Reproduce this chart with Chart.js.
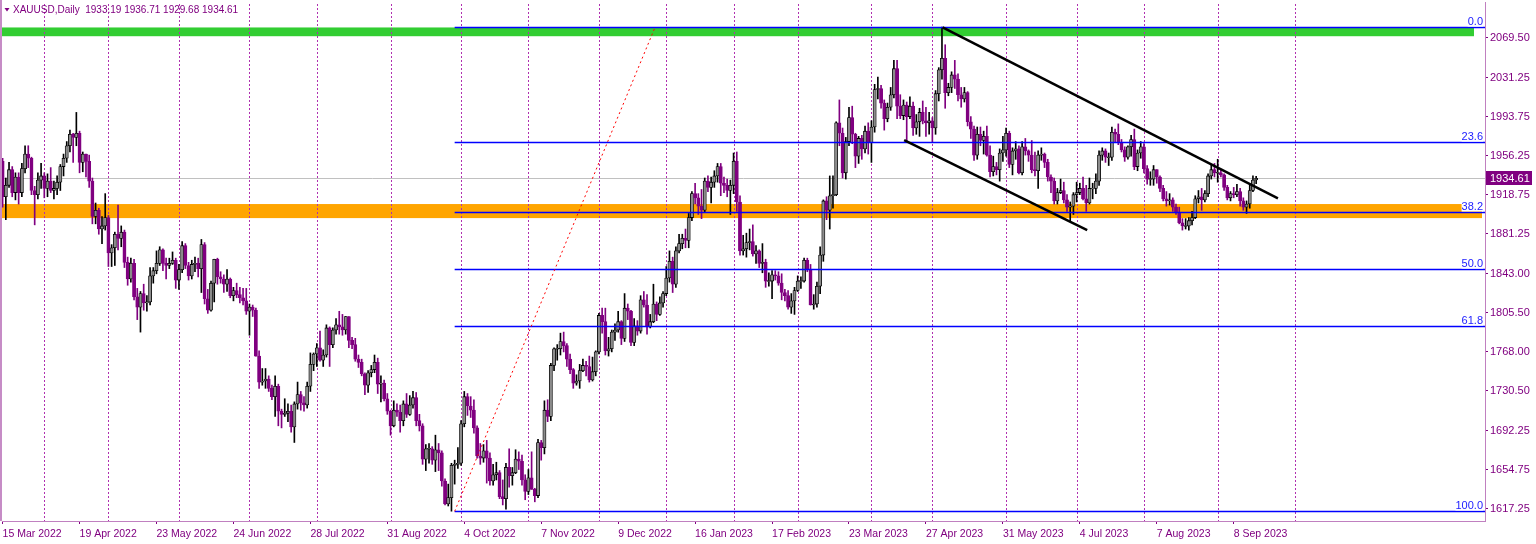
<!DOCTYPE html>
<html>
<head>
<meta charset="utf-8">
<script src="https://cdn.jsdelivr.net/npm/chart.js@4.4.0/dist/chart.umd.min.js"></script>
<style>
  html, body { margin: 0; padding: 0; background: #fff; }
  canvas { display: block; }
</style>
</head>
<body>
<canvas id="xauChart" width="1536" height="544"></canvas>
<script>
// XAUUSD daily candles, one array per month: [day, open, high, low, close]
const m2022_03 = [
  [15,1951,1954,1907,1917],[16,1917,1935,1895,1928],[17,1928,1950,1926,1943],[18,1943,1946,1917,1921],
  [21,1921,1940,1914,1936],[22,1936,1940,1910,1921],[23,1921,1949,1917,1944],[24,1944,1966,1940,1958],[25,1958,1966,1945,1954],
  [28,1954,1955,1919,1923],[29,1923,1927,1890,1919],[30,1919,1940,1915,1933],[31,1933,1949,1925,1937]
];
const m2022_04 = [
  [1,1937,1940,1916,1925],
  [4,1925,1939,1917,1932],[5,1932,1945,1921,1923],[6,1923,1932,1915,1925],[7,1925,1937,1919,1931],[8,1931,1948,1923,1946],
  [11,1946,1958,1937,1954],[12,1954,1970,1950,1966],[13,1966,1981,1960,1977],[14,1977,1978,1950,1974],
  [18,1974,1998,1966,1978],[19,1978,1980,1940,1950],[20,1950,1960,1941,1958],[21,1958,1958,1936,1951],[22,1951,1957,1926,1932],
  [25,1932,1935,1891,1898],[26,1898,1911,1891,1904],[27,1904,1906,1881,1886],[28,1886,1898,1872,1889],[29,1889,1920,1885,1897]
];
const m2022_05 = [
  [2,1897,1899,1850,1863],[3,1863,1871,1850,1868],[4,1868,1883,1851,1881],[5,1881,1909,1866,1877],[6,1877,1889,1869,1883],
  [9,1883,1885,1849,1854],[10,1854,1859,1832,1838],[11,1838,1858,1835,1853],[12,1853,1857,1818,1821],[13,1821,1829,1799,1811],
  [16,1811,1826,1787,1824],[17,1824,1833,1808,1815],[18,1815,1822,1807,1816],[19,1816,1849,1813,1841],[20,1841,1849,1834,1846],
  [23,1846,1865,1843,1853],[24,1853,1869,1851,1866],[25,1866,1867,1846,1853],[26,1853,1858,1838,1851],[27,1851,1858,1848,1853],
  [30,1853,1864,1852,1856],[31,1856,1858,1829,1837]
];
const m2022_06 = [
  [1,1837,1852,1828,1847],[2,1847,1874,1844,1870],[3,1870,1872,1848,1851],
  [6,1851,1854,1837,1841],[7,1841,1856,1838,1852],[8,1852,1859,1845,1853],[9,1853,1858,1840,1848],[10,1848,1876,1825,1871],
  [13,1871,1873,1814,1819],[14,1819,1828,1805,1808],[15,1808,1836,1807,1834],[16,1834,1857,1816,1857],[17,1857,1858,1833,1840],
  [20,1840,1845,1834,1838],[21,1838,1842,1825,1833],[22,1833,1847,1826,1838],[23,1838,1839,1820,1822],[24,1822,1830,1817,1827],
  [27,1827,1834,1820,1823],[28,1823,1830,1815,1820],[29,1820,1829,1813,1817],[30,1817,1829,1804,1807]
];
const m2022_07 = [
  [1,1807,1814,1784,1811],
  [4,1811,1813,1802,1808],[5,1808,1810,1764,1764],[6,1764,1769,1733,1739],[7,1739,1752,1736,1740],[8,1740,1752,1733,1742],
  [11,1742,1745,1730,1733],[12,1733,1736,1722,1725],[13,1725,1745,1706,1735],[14,1735,1737,1697,1711],[15,1711,1713,1695,1708],
  [18,1708,1723,1706,1709],[19,1709,1718,1701,1711],[20,1711,1717,1691,1696],[21,1696,1720,1681,1718],[22,1718,1739,1713,1727],
  [25,1727,1730,1712,1719],[26,1719,1725,1711,1717],[27,1717,1739,1714,1735],[28,1735,1767,1730,1756],[29,1756,1767,1750,1766]
];
const m2022_08 = [
  [1,1766,1776,1754,1772],[2,1772,1788,1759,1760],[3,1760,1770,1754,1765],[4,1765,1794,1763,1791],[5,1791,1792,1754,1775],
  [8,1775,1791,1772,1789],[9,1789,1800,1785,1794],[10,1794,1807,1785,1792],[11,1792,1804,1784,1789],[12,1789,1802,1785,1802],
  [15,1802,1802,1772,1779],[16,1779,1782,1771,1775],[17,1775,1781,1759,1761],[18,1761,1765,1753,1758],[19,1758,1761,1745,1747],
  [22,1747,1748,1727,1736],[23,1736,1750,1729,1748],[24,1748,1755,1744,1751],[25,1751,1765,1748,1758],[26,1758,1762,1728,1737],
  [29,1737,1745,1720,1738],[30,1738,1741,1721,1723],[31,1723,1728,1708,1711]
];
const m2022_09 = [
  [1,1711,1712,1688,1697],[2,1697,1721,1696,1712],
  [5,1712,1718,1706,1710],[6,1710,1717,1691,1702],[7,1702,1721,1697,1718],[8,1718,1728,1705,1708],[9,1708,1726,1707,1717],
  [12,1717,1730,1714,1724],[13,1724,1729,1697,1702],[14,1702,1708,1692,1697],[15,1697,1699,1660,1665],[16,1665,1679,1654,1675],
  [19,1675,1680,1661,1675],[20,1675,1677,1660,1664],[21,1664,1688,1653,1674],[22,1674,1680,1654,1671],[23,1671,1673,1639,1644],
  [26,1644,1646,1621,1622],[27,1622,1641,1620,1628],[28,1628,1661,1615,1659],[29,1659,1664,1641,1660],[30,1660,1676,1656,1661]
];
const m2022_10 = [
  [3,1661,1702,1659,1699],[4,1699,1730,1696,1725],[5,1725,1728,1707,1716],[6,1716,1725,1705,1712],[7,1712,1722,1690,1695],
  [10,1695,1697,1666,1668],[11,1668,1680,1660,1666],[12,1666,1679,1662,1673],[13,1673,1683,1642,1666],[14,1666,1671,1640,1644],
  [17,1644,1660,1640,1650],[18,1650,1662,1645,1652],[19,1652,1654,1627,1629],[20,1629,1645,1621,1627],[21,1627,1661,1617,1657],
  [24,1657,1675,1638,1649],[25,1649,1657,1640,1652],[26,1652,1674,1651,1665],[27,1665,1672,1655,1663],[28,1663,1669,1640,1645],
  [31,1645,1650,1626,1634]
];
const m2022_11 = [
  [1,1634,1655,1631,1647],[2,1647,1672,1636,1636],[3,1636,1637,1624,1630],[4,1630,1684,1628,1681],
  [7,1681,1683,1664,1676],[8,1676,1721,1670,1712],[9,1712,1722,1701,1706],[10,1706,1757,1702,1755],[11,1755,1772,1750,1771],
  [14,1771,1775,1760,1771],[15,1771,1786,1765,1778],[16,1778,1787,1768,1774],[17,1774,1776,1754,1761],[18,1761,1766,1747,1751],
  [21,1751,1752,1733,1738],[22,1738,1746,1736,1740],[23,1740,1756,1733,1750],[24,1750,1761,1749,1755],[25,1755,1759,1745,1754],
  [28,1754,1764,1739,1741],[29,1741,1763,1740,1749],[30,1749,1769,1745,1768]
];
const m2022_12 = [
  [1,1768,1805,1766,1803],[2,1803,1810,1786,1797],
  [5,1797,1810,1765,1769],[6,1769,1782,1764,1771],[7,1771,1789,1768,1787],[8,1787,1795,1779,1789],[9,1789,1807,1787,1797],
  [12,1797,1798,1775,1781],[13,1781,1824,1778,1810],[14,1810,1814,1799,1807],[15,1807,1808,1774,1777],[16,1777,1800,1774,1793],
  [19,1793,1798,1784,1788],[20,1788,1822,1786,1818],[21,1818,1826,1811,1813],[22,1813,1823,1785,1792],[23,1792,1804,1791,1797],
  [27,1797,1833,1796,1814],[28,1814,1816,1798,1804],[29,1804,1821,1803,1815],[30,1815,1826,1811,1824]
];
const m2023_01 = [
  [3,1824,1850,1822,1839],[4,1839,1865,1835,1855],[5,1855,1859,1825,1833],[6,1833,1869,1830,1865],
  [9,1865,1881,1863,1872],[10,1872,1881,1867,1877],[11,1877,1886,1868,1875],[12,1875,1901,1868,1897],[13,1897,1922,1894,1920],
  [16,1920,1930,1910,1916],[17,1916,1920,1900,1908],[18,1908,1924,1896,1904],[19,1904,1935,1902,1932],[20,1932,1937,1922,1926],
  [23,1926,1936,1911,1931],[24,1931,1942,1926,1937],[25,1937,1949,1931,1946],[26,1946,1949,1918,1930],[27,1930,1936,1921,1928],
  [30,1928,1934,1917,1923],[31,1923,1933,1900,1928]
];
const m2023_02 = [
  [1,1928,1959,1920,1951],[2,1951,1960,1903,1912],[3,1912,1918,1861,1865],
  [6,1865,1880,1861,1867],[7,1867,1882,1859,1873],[8,1873,1886,1866,1874],[9,1874,1890,1860,1862],[10,1862,1870,1853,1865],
  [13,1865,1866,1849,1853],[14,1853,1872,1844,1854],[15,1854,1857,1830,1836],[16,1836,1844,1831,1836],[17,1836,1846,1819,1842],
  [20,1842,1846,1837,1841],[21,1841,1845,1832,1834],[22,1834,1843,1818,1825],[23,1825,1828,1817,1822],[24,1822,1827,1809,1811],
  [27,1811,1824,1805,1817],[28,1817,1830,1804,1827]
];
const m2023_03 = [
  [1,1827,1841,1826,1836],[2,1836,1840,1829,1836],[3,1836,1858,1835,1856],
  [6,1856,1858,1845,1847],[7,1847,1852,1813,1813],[8,1813,1823,1809,1814],[9,1814,1835,1811,1831],[10,1831,1869,1824,1861],
  [13,1861,1914,1855,1913],[14,1913,1917,1895,1904],[15,1904,1937,1886,1918],[16,1918,1937,1906,1919],[17,1919,1989,1918,1988],
  [20,1988,2010,1966,1978],[21,1978,1983,1935,1940],[22,1940,1974,1934,1970],[23,1970,2003,1966,1993],[24,1993,2004,1968,1977],
  [27,1977,1978,1945,1956],[28,1956,1975,1949,1973],[29,1973,1976,1953,1963],[30,1963,1985,1959,1980],[31,1980,1988,1958,1969]
];
const m2023_04 = [
  [3,1969,1990,1950,1984],[4,1984,2025,1979,2020],[5,2020,2032,2011,2021],[6,2021,2024,2002,2007],
  [10,2007,2010,1981,1992],[11,1992,2007,1989,2003],[12,2003,2022,2000,2015],[13,2015,2048,2012,2040],[14,2040,2048,1992,2004],
  [17,2004,2015,1992,1995],[18,1995,2010,1991,2005],[19,2005,2008,1969,1994],[20,1994,2013,1992,2004],[21,2004,2008,1976,1983],
  [24,1983,1996,1977,1989],[25,1989,2002,1975,1998],[26,1998,2009,1987,1990],[27,1990,2003,1975,1988],[28,1988,1998,1977,1990]
];
const m2023_05 = [
  [1,1990,1993,1969,1983],[2,1983,2019,1977,2016],[3,2016,2041,2009,2039],[4,2039,2080,2030,2050],[5,2050,2063,2002,2017],
  [8,2017,2026,2014,2022],[9,2022,2037,2017,2034],[10,2034,2048,2021,2030],[11,2030,2035,2009,2015],[12,2015,2022,2003,2011],
  [15,2011,2022,2008,2017],[16,2017,2018,1985,1989],[17,1989,1994,1973,1982],[18,1982,1985,1952,1957],[19,1957,1984,1953,1977],
  [22,1977,1984,1966,1971],[23,1971,1980,1958,1975],[24,1975,1985,1956,1957],[25,1957,1966,1936,1941],[26,1941,1956,1937,1946],
  [29,1946,1950,1938,1943],[30,1943,1963,1932,1959],[31,1959,1975,1951,1962]
];
const m2023_06 = [
  [1,1962,1983,1956,1978],[2,1978,1980,1945,1948],
  [5,1948,1964,1938,1961],[6,1961,1970,1953,1963],[7,1963,1966,1939,1940],[8,1940,1970,1938,1965],[9,1965,1973,1957,1961],
  [12,1961,1962,1951,1957],[13,1957,1971,1940,1943],[14,1943,1960,1937,1942],[15,1942,1961,1925,1957],[16,1957,1964,1952,1958],
  [19,1958,1959,1945,1950],[20,1950,1953,1932,1936],[21,1936,1938,1921,1932],[22,1932,1935,1910,1913],[23,1913,1925,1910,1921],
  [26,1921,1934,1920,1923],[27,1923,1931,1911,1914],[28,1914,1919,1903,1907],[29,1907,1912,1893,1908],[30,1908,1921,1900,1919]
];
const m2023_07 = [
  [3,1919,1931,1912,1921],[4,1921,1930,1919,1925],[5,1925,1936,1914,1915],[6,1915,1928,1903,1911],[7,1911,1935,1910,1925],
  [10,1925,1930,1915,1925],[11,1925,1939,1920,1932],[12,1932,1961,1928,1957],[13,1957,1964,1952,1961],[14,1961,1963,1950,1955],
  [17,1955,1959,1947,1955],[18,1955,1984,1952,1979],[19,1979,1982,1969,1977],[20,1977,1987,1967,1969],[21,1969,1972,1960,1962],
  [24,1962,1965,1951,1955],[25,1955,1966,1953,1965],[26,1965,1976,1956,1972],[27,1972,1982,1943,1946],[28,1946,1962,1942,1959],
  [31,1959,1970,1954,1965]
];
const m2023_08 = [
  [1,1965,1968,1940,1944],[2,1944,1947,1929,1934],[3,1934,1941,1928,1934],[4,1934,1947,1928,1943],
  [7,1943,1943,1930,1936],[8,1936,1937,1922,1925],[9,1925,1928,1913,1915],[10,1915,1922,1908,1913],[11,1913,1920,1909,1914],
  [14,1914,1916,1903,1907],[15,1907,1910,1900,1902],[16,1902,1907,1891,1892],[17,1892,1896,1885,1889],[18,1889,1896,1886,1889],
  [21,1889,1897,1885,1894],[22,1894,1903,1890,1897],[23,1897,1918,1896,1915],[24,1915,1923,1911,1917],[25,1917,1925,1904,1914],
  [28,1914,1923,1912,1920],[29,1920,1939,1917,1937],[30,1937,1948,1934,1943],[31,1943,1949,1936,1940]
];
const m2023_09 = [
  [1,1940,1953,1931,1940],
  [4,1940,1943,1936,1938],[5,1938,1939,1923,1926],[6,1926,1928,1914,1916],[7,1916,1922,1913,1920],[8,1920,1926,1916,1919],
  [11,1919,1929,1917,1922],[12,1922,1925,1908,1913],[13,1913,1916,1904,1907],[14,1907,1913,1901,1910],[15,1910,1928,1906,1923],
  [18,1923,1937,1922,1933],[19,1933.19,1936.71,1929.68,1934.61]
];

const months = [
  [2022, 3, m2022_03], [2022, 4, m2022_04], [2022, 5, m2022_05], [2022, 6, m2022_06],
  [2022, 7, m2022_07], [2022, 8, m2022_08], [2022, 9, m2022_09], [2022, 10, m2022_10],
  [2022, 11, m2022_11], [2022, 12, m2022_12], [2023, 1, m2023_01], [2023, 2, m2023_02],
  [2023, 3, m2023_03], [2023, 4, m2023_04], [2023, 5, m2023_05], [2023, 6, m2023_06],
  [2023, 7, m2023_07], [2023, 8, m2023_08], [2023, 9, m2023_09]
];

// time axis labels as printed under the chart
const dateLabels = ['15 Mar 2022', '19 Apr 2022', '23 May 2022', '24 Jun 2022', '28 Jul 2022', '31 Aug 2022',
  '4 Oct 2022', '7 Nov 2022', '9 Dec 2022', '16 Jan 2023', '17 Feb 2023', '23 Mar 2023', '27 Apr 2023',
  '31 May 2023', '4 Jul 2023', '7 Aug 2023', '8 Sep 2023'];

// price scale labels
const priceTicks = [1617.25, 1654.75, 1692.25, 1730.50, 1768.00, 1805.50, 1843.00,
  1881.25, 1918.75, 1956.25, 1993.75, 2031.25, 2069.50];

const title = 'XAUUSD,Daily  1933.19 1936.71 1929.68 1934.61';
const lastPrice = 1934.61;

// fibonacci retracement: low anchor, high anchor [barIndex, price]
const fibLow = [141, 1614.85];
const fibHigh = [203.5, 2079.76];
const fibLevels = [0, 23.6, 38.2, 50, 61.8, 100];

// support / resistance zones [low, high]
const greenZone = [2071.2, 2079.6];
const orangeZone = [1896.5, 1910.0];

// falling channel lines [[barIndex, price], [barIndex, price]]
const channelTop = [[293.2, 2079.76], [397.8, 1915.5]];
const channelBottom = [[281.2, 1971.4], [338.3, 1885.0]];

// extra vertical marker to the right of the last bar
const futureMarker = 403;

// ---- build bars ----
const monthNames = ['Jan','Feb','Mar','Apr','May','Jun','Jul','Aug','Sep','Oct','Nov','Dec'];
const candles = [];
const monthStarts = [];
months.forEach(([yr, mo, rows], k) => {
  if (k > 0) monthStarts.push(candles.length);
  rows.forEach(r => candles.push({ i: candles.length, yr: yr, mo: mo, d: r[0], o: r[1], h: r[2], l: r[3], c: r[4] }));
});
monthStarts.push(futureMarker);

const labelIdx = dateLabels.map(s => {
  const p = s.split(' ');
  const mo = monthNames.indexOf(p[1]) + 1;
  const bar = candles.find(c => c.yr === +p[2] && c.mo === mo && c.d === +p[0]);
  return bar ? bar.i : 0;
});

const isUp = candles.map(c => c.c >= c.o);
const wicks = candles.map(c => ({ x: c.i, y: [c.l, c.h] }));
const bodies = candles.map(c => {
  let a = Math.min(c.o, c.c), b = Math.max(c.o, c.c);
  if (b - a < 0.8) { const m = (a + b) / 2; a = m - 0.4; b = m + 0.4; }
  return { x: c.i, y: [a, b] };
});

const PURPLE = '#800080';
const FONT = 'Liberation Sans, Arial, sans-serif';

const overlay = {
  id: 'overlay',
  beforeDatasetsDraw(chart) {
    const { ctx, chartArea: a, scales: { x, y } } = chart;
    ctx.save();
    ctx.beginPath();
    ctx.rect(a.left, a.top, a.right - a.left, a.bottom - a.top);
    ctx.clip();

    // zones
    let y1 = y.getPixelForValue(greenZone[1]), y2 = y.getPixelForValue(greenZone[0]);
    ctx.fillStyle = '#32CD32';
    ctx.fillRect(a.left, y1, a.right - 11 - a.left, y2 - y1);
    y1 = y.getPixelForValue(orangeZone[1]); y2 = y.getPixelForValue(orangeZone[0]);
    ctx.fillStyle = '#FFA500';
    ctx.fillRect(a.left, y1, a.right - 3 - a.left, y2 - y1);

    // month separators
    ctx.strokeStyle = '#B030B0';
    ctx.lineWidth = 1;
    ctx.setLineDash([2, 2]);
    monthStarts.forEach(i => {
      const px = Math.round(x.getPixelForValue(i)) + 0.5;
      ctx.beginPath();
      ctx.moveTo(px, 0);
      ctx.lineTo(px, a.bottom);
      ctx.stroke();
    });
    ctx.setLineDash([]);

    // last price line
    const py = Math.round(y.getPixelForValue(lastPrice)) + 0.5;
    ctx.strokeStyle = '#C0C0C0';
    ctx.beginPath();
    ctx.moveTo(a.left, py);
    ctx.lineTo(a.right, py);
    ctx.stroke();
    ctx.restore();
  },
  afterDatasetsDraw(chart) {
    const { ctx, chartArea: a, scales: { x, y } } = chart;
    ctx.save();
    ctx.beginPath();
    ctx.rect(a.left, a.top, a.right - a.left, a.bottom - a.top);
    ctx.clip();

    // fibonacci levels
    const fx = x.getPixelForValue(fibLow[0]);
    ctx.font = '11px ' + FONT;
    ctx.textAlign = 'right';
    ctx.textBaseline = 'bottom';
    fibLevels.forEach(lv => {
      const price = fibHigh[1] - (fibHigh[1] - fibLow[1]) * lv / 100;
      const ly = Math.round(y.getPixelForValue(price)) + 0.5;
      ctx.strokeStyle = '#0000FF';
      ctx.lineWidth = 1.4;
      ctx.beginPath();
      ctx.moveTo(fx, ly);
      ctx.lineTo(a.right, ly);
      ctx.stroke();
      const txt = lv.toFixed(1);
      const w = ctx.measureText(txt).width;
      ctx.fillStyle = '#fff';
      ctx.fillRect(a.right - 2 - w, ly - 10, w, 9);
      ctx.fillStyle = '#2020FF';
      ctx.fillText(txt, a.right - 2, ly);
    });

    // fibonacci trend line (dotted red)
    ctx.strokeStyle = '#FF0000';
    ctx.lineWidth = 1;
    ctx.setLineDash([2, 3]);
    ctx.beginPath();
    ctx.moveTo(x.getPixelForValue(fibLow[0]), y.getPixelForValue(fibLow[1]));
    ctx.lineTo(x.getPixelForValue(fibHigh[0]), y.getPixelForValue(fibHigh[1]));
    ctx.stroke();
    ctx.setLineDash([]);

    // channel
    ctx.strokeStyle = '#000';
    ctx.lineWidth = 2.5;
    [channelTop, channelBottom].forEach(ln => {
      ctx.beginPath();
      ctx.moveTo(x.getPixelForValue(ln[0][0]), y.getPixelForValue(ln[0][1]));
      ctx.lineTo(x.getPixelForValue(ln[1][0]), y.getPixelForValue(ln[1][1]));
      ctx.stroke();
    });
    ctx.restore();

    // title
    ctx.save();
    ctx.fillStyle = PURPLE;
    ctx.beginPath();
    ctx.moveTo(4.5, 8); ctx.lineTo(9.5, 8); ctx.lineTo(7, 11.5);
    ctx.closePath();
    ctx.fill();
    ctx.font = '10px ' + FONT;
    ctx.textAlign = 'left';
    ctx.textBaseline = 'middle';
    ctx.fillText(title, 13, 10);

    // left frame
    ctx.fillStyle = '#C68CC6';
    ctx.fillRect(0, 0, 2, a.bottom);
    ctx.restore();
  },
  afterDraw(chart) {
    const { ctx, chartArea: a, scales: { y } } = chart;
    const py = Math.round(y.getPixelForValue(lastPrice));
    ctx.save();
    ctx.fillStyle = PURPLE;
    ctx.fillRect(a.right + 1, py - 7, 46, 14);
    ctx.fillStyle = '#fff';
    ctx.font = '11px ' + FONT;
    ctx.textAlign = 'left';
    ctx.textBaseline = 'middle';
    ctx.fillText(lastPrice.toFixed(2), a.right + 5, py + 0.5);
    ctx.restore();
  }
};

new Chart(document.getElementById('xauChart').getContext('2d'), {
  type: 'bar',
  data: {
    datasets: [
      {
        label: 'wick',
        data: wicks,
        backgroundColor: c => isUp[c.dataIndex] ? '#000000' : PURPLE,
        borderWidth: 0,
        barThickness: 1,
        grouped: false,
        order: 2
      },
      {
        label: 'body',
        data: bodies,
        backgroundColor: c => isUp[c.dataIndex] ? '#8C8C8C' : PURPLE,
        borderColor: c => isUp[c.dataIndex] ? '#000000' : PURPLE,
        borderWidth: 0.8,
        borderSkipped: false,
        barThickness: 3.2,
        grouped: false,
        order: 1
      }
    ]
  },
  options: {
    responsive: false,
    animation: false,
    layout: { padding: { left: 2, top: 2, right: 0, bottom: 0 } },
    plugins: { legend: { display: false }, tooltip: { enabled: false } },
    scales: {
      x: {
        type: 'linear',
        min: -0.193,
        max: 462.38,
        offset: false,
        bounds: 'data',
        afterBuildTicks: s => { s.ticks = labelIdx.map(v => ({ value: v })); },
        afterFit: s => { s.height = 23; s.paddingLeft = 0; s.paddingRight = 0; },
        ticks: {
          autoSkip: false, maxRotation: 0, align: 'start', padding: 4,
          color: PURPLE, font: { family: FONT, size: 10.5 },
          callback: (v, k) => dateLabels[k]
        },
        grid: { drawOnChartArea: false, offset: false, tickLength: 3, color: PURPLE },
        border: { color: '#C080C0' }
      },
      y: {
        position: 'right',
        min: 1605.57,
        max: 2104.06,
        bounds: 'data',
        afterBuildTicks: s => { s.ticks = priceTicks.map(v => ({ value: v })); },
        afterFit: s => { s.width = 51; s.paddingTop = 0; s.paddingBottom = 0; },
        ticks: {
          autoSkip: false, padding: 2,
          color: PURPLE, font: { family: FONT, size: 11 },
          callback: v => Number(v).toFixed(2)
        },
        grid: { drawOnChartArea: false, tickLength: 3, color: PURPLE },
        border: { color: '#C080C0' }
      }
    }
  },
  plugins: [overlay]
});
</script>
</body>
</html>
